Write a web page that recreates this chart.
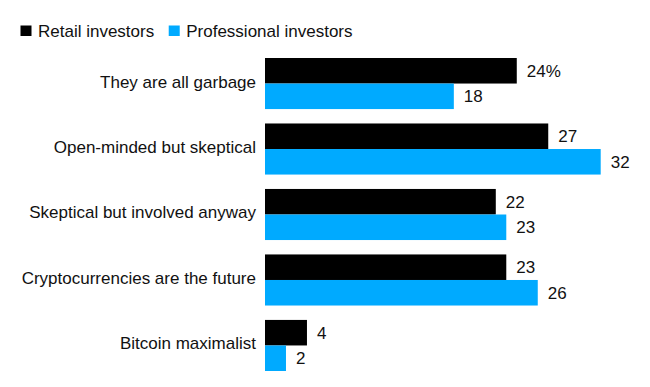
<!DOCTYPE html>
<html>
<head>
<meta charset="utf-8">
<script src="https://cdn.jsdelivr.net/npm/d3@7"></script>
<style>
  body { margin: 0; background: #fff; }
  text { font-family: 'Liberation Sans', Arial, sans-serif; fill: #111; }
</style>
</head>
<body>
<div id="chart"></div>
<script>
const categories = [
  'They are all garbage',
  'Open-minded but skeptical',
  'Skeptical but involved anyway',
  'Cryptocurrencies are the future',
  'Bitcoin maximalist'
]
const seriesNames = ['Retail investors', 'Professional investors']
const retail = [24, 27, 22, 23, 4]
const professional = [18, 32, 23, 26, 2]

const colors = ['#000000', '#00aaff']
const fontSize = 17

const width = 650
const height = 387
const margin = { top: 58, left: 265, right: 49.3, bottom: 16 }

const svg = d3
  .select('#chart')
  .append('svg')
  .attr('width', width)
  .attr('height', height)

const rows = categories.map((c, i) => ({ category: c, values: [retail[i], professional[i]] }))

const yGroup = d3
  .scaleBand()
  .domain(categories)
  .range([margin.top, height - margin.bottom])
  .paddingInner(0.22)
  .paddingOuter(0)

const ySeries = d3
  .scaleBand()
  .domain(d3.range(seriesNames.length))
  .range([0, yGroup.bandwidth()])

const xScale = d3
  .scaleLinear()
  .domain([0, 32])
  .range([margin.left, width - margin.right])

// Legend
const legend = svg.append('g').attr('class', 'legend')
let lx = 20.5
seriesNames.forEach((name, i) => {
  legend
    .append('rect')
    .attr('x', lx)
    .attr('y', 25.5)
    .attr('width', 11)
    .attr('height', 10.5)
    .attr('fill', colors[i])
  const t = legend
    .append('text')
    .attr('x', lx + 17.5)
    .attr('y', 36.5)
    .attr('font-size', fontSize)
    .text(name)
  lx += 17.5 + t.node().getComputedTextLength() + 14.5
})

// Groups
const group = svg
  .append('g')
  .selectAll('g')
  .data(rows)
  .enter()
  .append('g')
  .attr('transform', d => 'translate(0,' + yGroup(d.category) + ')')

group
  .append('text')
  .attr('x', margin.left - 9)
  .attr('y', yGroup.bandwidth() / 2 + 4)
  .attr('text-anchor', 'end')
  .attr('font-size', fontSize)
  .text(d => d.category)

group
  .selectAll('rect')
  .data(d => d.values)
  .enter()
  .append('rect')
  .attr('x', xScale(0))
  .attr('y', (d, i) => ySeries(i))
  .attr('width', d => xScale(d) - xScale(0))
  .attr('height', ySeries.bandwidth())
  .attr('fill', (d, i) => colors[i])

group
  .selectAll('.value')
  .data((d, gi) => d.values.map(v => ({ v, gi })))
  .enter()
  .append('text')
  .attr('class', 'value')
  .attr('x', d => xScale(d.v) + 10)
  .attr('y', (d, i) => ySeries(i) + ySeries.bandwidth() / 2 + 6)
  .attr('font-size', fontSize)
  .text((d, i) => (d.gi === 0 && i === 0 ? d.v + '%' : d.v))
</script>
</body>
</html>
